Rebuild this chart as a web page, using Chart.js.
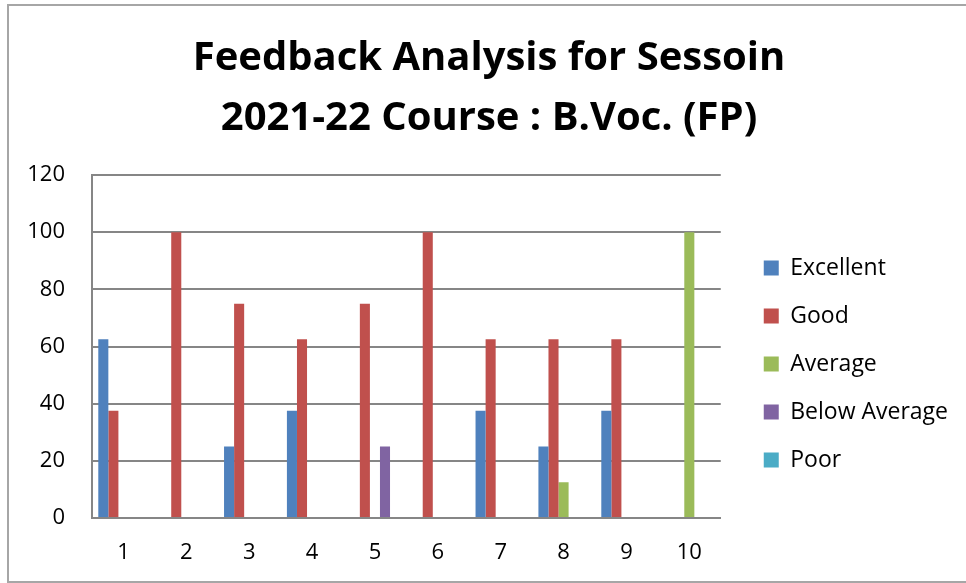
<!DOCTYPE html>
<html>
<head>
<meta charset="utf-8">
<title>Feedback Analysis</title>
<script src="https://cdn.jsdelivr.net/npm/chart.js@4.4.0/dist/chart.umd.min.js"></script>
<style>
    html, body { margin: 0; padding: 0; background: #fff; }
    #wrap { width: 966px; height: 583px; }
</style>
</head>
<body>
<div id="wrap"><canvas id="feedbackChart" width="966" height="583"></canvas></div>
<script>
// data
const categories = ["1", "2", "3", "4", "5", "6", "7", "8", "9", "10"];
const excellent    = [62.5, 0, 25, 37.5, 0, 0, 37.5, 25, 37.5, 0];
const good         = [37.5, 100, 75, 62.5, 75, 100, 62.5, 62.5, 62.5, 0];
const average      = [0, 0, 0, 0, 0, 0, 0, 12.5, 0, 100];
const belowAverage = [0, 0, 0, 0, 25, 0, 0, 0, 0, 0];
const poor         = [0, 0, 0, 0, 0, 0, 0, 0, 0, 0];
const yTicks = [0, 20, 40, 60, 80, 100, 120];

// white background + outer frame like the office chart
const frame = {
    id: 'frame',
    beforeDraw(chart) {
        const c = chart.ctx;
        c.save();
        c.fillStyle = '#fff';
        c.fillRect(0, 0, chart.width, chart.height);
        c.strokeStyle = '#a6a6a6';
        c.lineWidth = 2;
        c.strokeRect(8, 5, chart.width + 10, chart.height - 6);
        c.restore();
    }
};

function series(label, data, color) {
    return {
        label: label,
        data: data,
        backgroundColor: color,
        borderWidth: 0,
        barPercentage: 1.0,
        categoryPercentage: 0.8
    };
}

const ctx = document.getElementById("feedbackChart").getContext("2d");
const chart = new Chart(ctx, {
    type: 'bar',
    data: {
        labels: categories,
        datasets: [
            series('Excellent', excellent, '#4F81BD'),
            series('Good', good, '#C0504D'),
            series('Average', average, '#9BBB59'),
            series('Below Average', belowAverage, '#8064A2'),
            series('Poor', poor, '#4BACC6')
        ]
    },
    options: {
        responsive: false,
        animation: false,
        layout: { padding: { left: 20, right: 8, top: 29, bottom: 0 } },
        plugins: {
            title: {
                display: true,
                text: ['Feedback Analysis for Sessoin', '2021-22 Course : B.Voc. (FP)'],
                color: '#000',
                font: { family: 'Open Sans', size: 40, weight: 'bold', lineHeight: 1.5 },
                padding: { top: 0, bottom: 26 }
            },
            legend: {
                position: 'right',
                maxWidth: 240,
                // empty title only pushes the entries down to the middle
                title: { display: true, text: ' ', font: { size: 10, lineHeight: 1 }, padding: { top: 0, bottom: 106 } },
                labels: {
                    color: '#000',
                    font: { family: 'Open Sans', size: 23 },
                    boxWidth: 15,
                    boxHeight: 15,
                    padding: 25
                }
            },
            tooltip: { enabled: false }
        },
        scales: {
            x: {
                grid: { display: false, drawTicks: false },
                border: { color: '#868686', width: 2 },
                ticks: { color: '#000', font: { family: 'Open Sans', size: 22 }, padding: 22 },
                afterFit(scale) { scale.height = 65; }
            },
            y: {
                min: 0,
                max: 120,
                afterBuildTicks(axis) { axis.ticks = yTicks.map(v => ({ value: v })); },
                grid: { color: '#868686', lineWidth: 2, drawTicks: false },
                border: { color: '#868686', width: 2 },
                ticks: { color: '#000', font: { family: 'Open Sans', size: 22 }, padding: 27 },
                afterFit(scale) { scale.width = 72; }
            },
            // spacer between plot and legend
            gap: {
                type: 'linear',
                position: 'right',
                grid: { display: false, drawTicks: false },
                border: { display: false },
                ticks: { display: false },
                afterFit(scale) { scale.width = 18; }
            }
        }
    },
    plugins: [frame]
});
</script>
</body>
</html>
